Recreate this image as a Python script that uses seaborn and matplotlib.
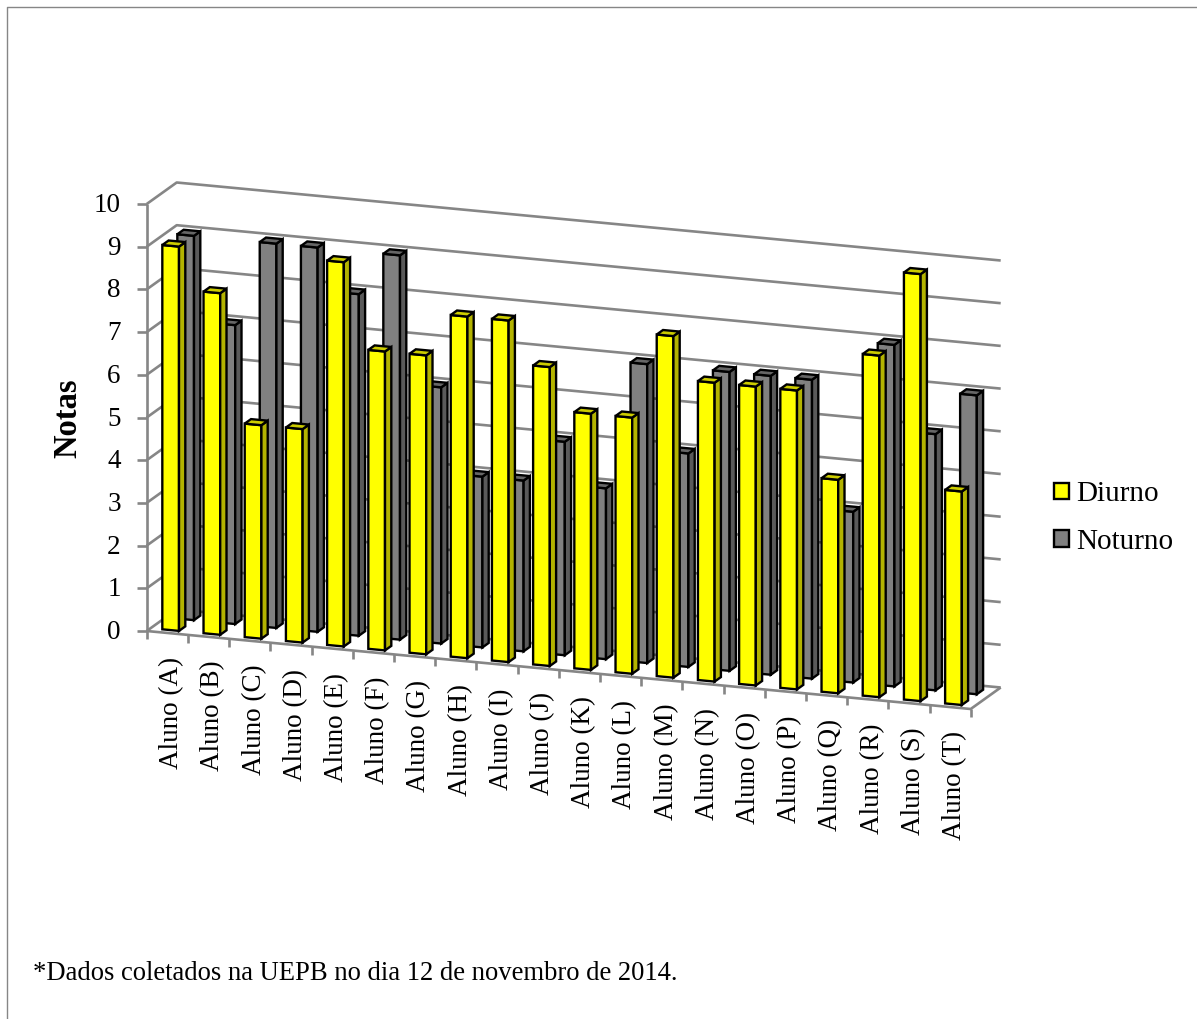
import matplotlib
matplotlib.use("Agg")
import matplotlib.pyplot as plt
from matplotlib.transforms import Affine2D
import pandas as pd
import seaborn as sns

# Grades per student and shift
alunos = ["Aluno (A)", "Aluno (B)", "Aluno (C)", "Aluno (D)", "Aluno (E)",
          "Aluno (F)", "Aluno (G)", "Aluno (H)", "Aluno (I)", "Aluno (J)",
          "Aluno (K)", "Aluno (L)", "Aluno (M)", "Aluno (N)", "Aluno (O)",
          "Aluno (P)", "Aluno (Q)", "Aluno (R)", "Aluno (S)", "Aluno (T)"]
diurno = [9, 8, 5, 5, 9, 7, 7, 8, 8, 7, 6, 6, 8, 7, 7, 7, 5, 8, 10, 5]
noturno = [9, 7, 9, 9, 8, 9, 6, 4, 4, 5, 4, 7, 5, 7, 7, 7, 4, 8, 6, 7]
turnos = ["Diurno", "Noturno"]
niveis = list(range(0, 11))
nota_rodape = "*Dados coletados na UEPB no dia 12 de novembro de 2014."

# Oblique projection of the 3-D column chart: category, value, depth -> canvas
ORIGIN_X, ORIGIN_Y = 146.7, 631.0
STEP_X, STEP_Y = 41.2, 3.9
UNIT_Y = 42.7
DEPTH_X, DEPTH_Y = 30.0, -21.5
CENTER = 0.487
BAR_WIDTH = 0.405
BAR_DEPTH = 0.21
ROW_DEPTH = {"Noturno": 0.63, "Diurno": 0.13}

GRID = "#868686"
FRONT = {"Diurno": "#FFFF00", "Noturno": "#808080"}
SIDE = {"Diurno": "#B3B300", "Noturno": "#5A5A5A"}
TOP = {"Diurno": "#CCCC00", "Noturno": "#666666"}
EDGE_WIDTH = 1.7


def project(x, v, w):
    """Canvas position of a point at category edge x, value v and depth w."""
    return (ORIGIN_X + STEP_X * x + DEPTH_X * w,
            ORIGIN_Y + STEP_Y * x - UNIT_Y * v + DEPTH_Y * w)


def chart_line(ax, pts, **kw):
    xs, ys = zip(*pts)
    ax.plot(xs, ys, color=GRID, lw=1.9, solid_capstyle="butt", zorder=1, **kw)


sns.set_theme(style="white", rc={"font.family": ["Liberation Serif", "DejaVu Serif"]})
fig = plt.figure(figsize=(11.97, 10.19), dpi=100, facecolor="white")
ax = fig.add_axes([0, 0, 1, 1])

df = pd.DataFrame({
    "aluno": alunos * 2,
    "nota": diurno + noturno,
    "turno": ["Diurno"] * len(alunos) + ["Noturno"] * len(alunos),
})
sns.barplot(data=df, x="aluno", y="nota", hue="turno", hue_order=turnos,
            palette=FRONT, dodge=False, width=BAR_WIDTH, errorbar=None,
            saturation=1, edgecolor="black", linewidth=EDGE_WIDTH, ax=ax)

# Re-map each seaborn bar into its row of the oblique chart space
ax.set_xlim(0, 1197)
ax.set_ylim(1019, 0)
half = BAR_WIDTH / 2
for turno, container in zip(turnos, ax.containers):
    w = ROW_DEPTH[turno]
    ox, oy = project(CENTER, 0, w)
    shear = Affine2D.from_values(STEP_X, STEP_Y, 0, -UNIT_Y, ox, oy)
    z = 4 if turno == "Diurno" else 3
    for i, bar in enumerate(container):
        bar.set_transform(shear + ax.transData)
        bar.set_zorder(z)
        bar.set_clip_on(False)
        v = bar.get_height()
        c = i + CENTER
        side = [project(c + half, 0, w), project(c + half, v, w),
                project(c + half, v, w + BAR_DEPTH), project(c + half, 0, w + BAR_DEPTH)]
        top = [project(c - half, v, w), project(c + half, v, w),
               project(c + half, v, w + BAR_DEPTH), project(c - half, v, w + BAR_DEPTH)]
        for poly, color in ((side, SIDE[turno]), (top, TOP[turno])):
            ax.fill(*zip(*poly), facecolor=color, edgecolor="black",
                    linewidth=EDGE_WIDTH, joinstyle="miter", zorder=z)

# Walls and floor
n = len(alunos)
for v in niveis:
    chart_line(ax, [project(0, v, 0), project(0, v, 1), project(n, v, 1)])
    x0, y0 = project(0, v, 0)
    chart_line(ax, [(x0 - 9.5, y0), (x0, y0)])
    ax.text(x0 - 26, y0 - 1.5, str(v), ha="right", va="center_baseline",
            fontsize=19.5, color="black")
chart_line(ax, [project(0, 0, 0), project(0, niveis[-1], 0)])
chart_line(ax, [project(0, 0, 0), project(n, 0, 0), project(n, 0, 1)])
for i in range(n + 1):
    x0, y0 = project(i, 0, 0)
    chart_line(ax, [(x0, y0), (x0, y0 + 8)])

# Category labels hang under the front floor edge
for i, nome in enumerate(alunos):
    x0, y0 = project(i + 0.5, 0, 0)
    ax.text(x0 + 4.5, y0 + 24, nome, rotation=90, ha="center", va="top",
            fontsize=19.5, color="black")

ax.text(68, 418, "Notas", rotation=90, ha="center", va="center",
        fontsize=23.5, fontweight="bold", color="black")
ax.text(33, 973, nota_rodape, ha="left", va="center", fontsize=19.2, color="black")

# Chart frame, open on the right and bottom
ax.plot([7, 7, 1197], [1019, 7, 7], color=GRID, lw=1.0, zorder=1)

sns.move_legend(ax, loc="center left", bbox_to_anchor=(1028 / 1197, 1 - 518 / 1019),
                frameon=False, title=None, fontsize=21, handlelength=0.5,
                handleheight=0.5, handletextpad=0.25, labelspacing=0.74)
for label in ax.get_legend().get_texts():
    label.set_color("black")
ax.set_axis_off()

fig.savefig("out.png", dpi=100, facecolor="white")
